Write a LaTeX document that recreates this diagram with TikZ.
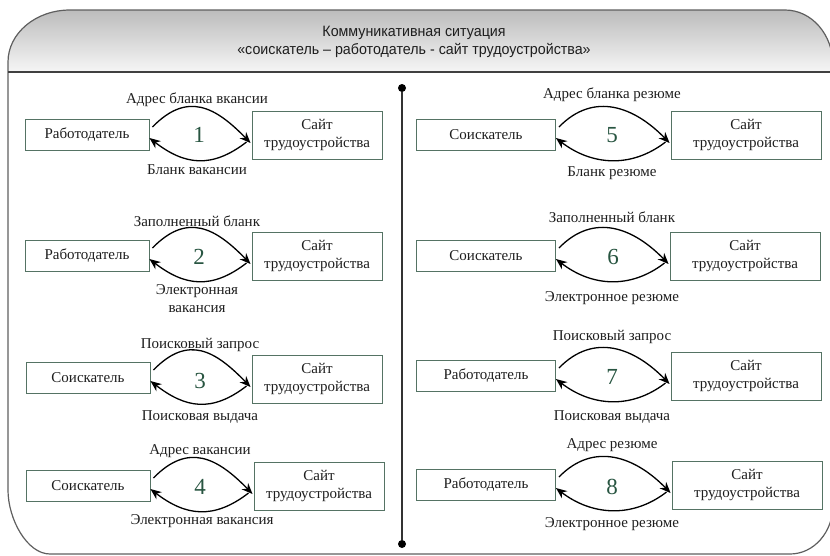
\documentclass[tikz,border=0pt]{standalone}
\usepackage{fontspec}
\setmainfont{Liberation Serif}
\newfontfamily\titlefont[FakeStretch=0.95]{Liberation Sans}
\usetikzlibrary{calc,arrows.meta}
\definecolor{boxc}{RGB}{85,115,100}
\definecolor{numc}{RGB}{40,85,65}
\definecolor{framec}{RGB}{95,95,95}
\definecolor{hdtop}{RGB}{188,188,188}
\definecolor{hdbot}{RGB}{246,246,246}
\definecolor{txtc}{RGB}{30,30,30}
\tikzset{
  lbox/.style={draw=boxc, line width=0.9pt, minimum width=124pt, minimum height=31pt, inner sep=0pt, text=txtc, font=\fontsize{15}{18}\selectfont},
  sbox/.style={draw=boxc, line width=0.9pt, minimum width=130pt, minimum height=48pt, inner sep=0pt, align=center, text=txtc, font=\fontsize{15}{18}\selectfont},
  lbl/.style={font=\fontsize{15}{18}\selectfont, align=center, inner sep=0pt, text=txtc},
  num/.style={font=\fontsize{23}{24}\selectfont, text=numc, inner sep=0pt},
  arr/.style={-{Stealth[length=11pt,width=9pt]}, line width=1.3pt},
  dotn/.style={circle, fill=black, inner sep=0pt, minimum size=8pt},
}
\newcommand\duoarcs[2]{%
 \draw[arr] ($(#1.east)+(3,-8)$) .. controls ($(#1.east)+(38,-44)$) and ($(#2.west)+(-36,-28)$) .. ($(#2.west)+(-1,8)$);
 \draw[arr] ($(#2.west)+(-5,7)$) .. controls ($(#2.west)+(-40,34)$) and ($(#1.east)+(35,30)$) .. ($(#1.east)+(0,3)$);
}
\begin{document}
\begin{tikzpicture}[x=1pt,y=-1pt]
\useasboundingbox (0,0) rectangle (830,555);
% header shading
\shade[top color=hdtop, bottom color=hdbot]
  (8,72) -- (8,62) .. controls (8,33) and (36,10) .. (70,10) -- (785,10)
  .. controls (812,10) and (833,35) .. (833,65) -- (833,72) -- cycle;
% frame
\draw[framec, line width=1.2pt]
  (8,72) -- (8,62) .. controls (8,33) and (36,10) .. (70,10) -- (785,10)
  .. controls (812,10) and (833,35) .. (833,65) -- (833,505)
  .. controls (833,532) and (814,554) .. (790,554) -- (50,554)
  .. controls (27,554) and (8,519) .. (8,490) -- cycle;
\draw[black!75, line width=1.2pt] (8,72) -- (833,72);
\node[font=\titlefont\fontsize{15}{18}\selectfont, align=center, text=txtc] (title) at (414,42)
  {Коммуникативная ситуация\\«соискатель – работодатель - сайт трудоустройства»};
% divider
\node[dotn] (d1) at (402,88) {};
\node[dotn] (d2) at (402,544) {};
\draw[black!80, line width=1.3pt] (d1) -- (d2);

% left column
\node[lbox] (r1) at (87,135) {Работодатель};
\node[sbox] (s1) at (317,135) {Сайт\\трудоустройства};
\node[num] (n1) at (199,135) {1};
\node[lbl] (t1) at (197,100) {Адрес бланка вкансии};
\node[lbl] (b1) at (197,170) {Бланк вакансии};
\duoarcs{r1}{s1}

\node[lbox] (r2) at (87,256) {Работодатель};
\node[sbox] (s2) at (317,256) {Сайт\\трудоустройства};
\node[num] (n2) at (199,257) {2};
\node[lbl] (t2) at (197,221) {Заполненный бланк};
\node[lbl] (b2) at (197,299) {Электронная\\вакансия};
\duoarcs{r2}{s2}

\node[lbox] (r3) at (88,378) {Соискатель};
\node[sbox] (s3) at (317,379) {Сайт\\трудоустройства};
\node[num] (n3) at (200,381) {3};
\node[lbl] (t3) at (200,345) {Поисковый запрос};
\node[lbl] (b3) at (200,417) {Поисковая выдача};
\duoarcs{r3}{s3}

\node[lbox] (r4) at (88,486) {Соискатель};
\node[sbox] (s4) at (319,486) {Сайт\\трудоустройства};
\node[num] (n4) at (200,487) {4};
\node[lbl] (t4) at (200,451) {Адрес вакансии};
\node[lbl] (b4) at (202,521) {Электронная вакансия};
\duoarcs{r4}{s4}

% right column
\node[lbox, minimum width=139pt] (r5) at (486,135) {Соискатель};
\node[sbox, minimum width=150pt] (s5) at (746,135) {Сайт\\трудоустройства};
\node[num] (n5) at (612,135) {5};
\node[lbl] (t5) at (612,95) {Адрес бланка резюме};
\node[lbl] (b5) at (612,173) {Бланк резюме};
\duoarcs{r5}{s5}

\node[lbox, minimum width=139pt] (r6) at (486,256) {Соискатель};
\node[sbox, minimum width=150pt] (s6) at (745,256) {Сайт\\трудоустройства};
\node[num] (n6) at (613,257) {6};
\node[lbl] (t6) at (612,217) {Заполненный бланк};
\node[lbl] (b6) at (612,298) {Электронное резюме};
\duoarcs{r6}{s6}

\node[lbox, minimum width=139pt] (r7) at (486,376) {Работодатель};
\node[sbox, minimum width=150pt] (s7) at (746,376) {Сайт\\трудоустройства};
\node[num] (n7) at (612,377) {7};
\node[lbl] (t7) at (612,337) {Поисковый запрос};
\node[lbl] (b7) at (612,417) {Поисковая выдача};
\duoarcs{r7}{s7}

\node[lbox, minimum width=139pt] (r8) at (486,485) {Работодатель};
\node[sbox, minimum width=150pt] (s8) at (747,485) {Сайт\\трудоустройства};
\node[num] (n8) at (612,487) {8};
\node[lbl] (t8) at (612,445) {Адрес резюме};
\node[lbl] (b8) at (612,524) {Электронное резюме};
\duoarcs{r8}{s8}
\end{tikzpicture}
\end{document}
